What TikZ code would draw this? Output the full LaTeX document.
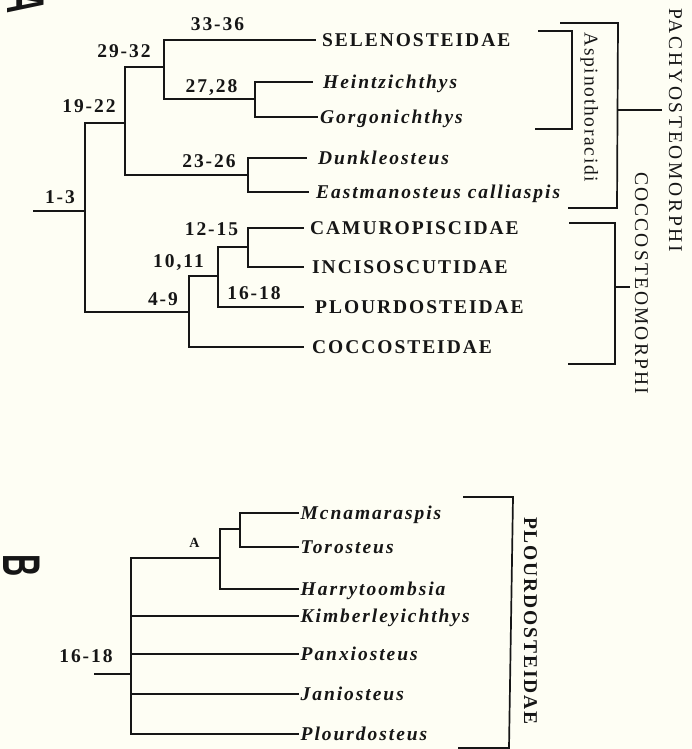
\documentclass[tikz,border=0pt]{standalone}
\usepackage{fontspec}
\setmainfont{Liberation Serif}
\newfontfamily\taxfont[LetterSpace=10]{Liberation Serif}
\newfontfamily\panelfont{Liberation Sans}
\definecolor{paper}{RGB}{254,254,244}
\definecolor{ink}{RGB}{22,22,22}

\begin{document}
\begin{tikzpicture}[x=1pt,y=-1pt,
  every node/.style={text=ink},
  branch/.style={draw=ink, line width=2.3pt, line join=miter},
  brace/.style={draw=ink, line width=1.7pt, line join=miter},
  leaf/.style={anchor=west, inner ysep=0pt, text height=12.9pt, text depth=0pt,
    font=\taxfont\bfseries\fontsize{19.5}{22}\selectfont},
  genus/.style={leaf, font=\taxfont\bfseries\itshape\fontsize{19.5}{22}\selectfont},
  apo/.style={inner sep=0pt, text height=13pt, text depth=0pt,
    font=\taxfont\bfseries\fontsize{19.5}{22}\selectfont},
  group/.style={rotate=-90, anchor=west, inner sep=0pt, text height=12.9pt, text depth=0pt},
  panel/.style={rotate=-90, inner sep=0pt, text height=38pt, text depth=0pt,
    font=\panelfont\bfseries\fontsize{53}{56}\selectfont}
]
\useasboundingbox (0,0) rectangle (692,749);
\fill[paper] (0,0) rectangle (692,749);
\clip (0,0) rectangle (692,749);

% panel letters
\node[panel] (panelA) at (27,3) {\scalebox{0.58}[1]{A}};
\node[panel] (panelB) at (23,566) {\scalebox{0.58}[1]{B}};

% ---------- A: tree of Arthrodira ----------
\coordinate (a0) at (33,211);
\coordinate (r1) at (85,211);
\coordinate (n1922) at (125,123);
\coordinate (n2932) at (164,67);
\coordinate (n2728) at (255,99);
\coordinate (n2326) at (248,175);
\coordinate (n49) at (189,312);
\coordinate (n1011) at (218,276);
\coordinate (n1215) at (248,247);

\node[leaf, inner xsep=6pt] (sel) at (316,40) {SELENOSTEIDAE};
\node[genus, inner xsep=10pt] (hei) at (313,82) {Heintzichthys};
\node[genus, inner xsep=2pt] (gor) at (318,117) {Gorgonichthys};
\node[genus, inner xsep=11pt] (dun) at (307,158) {Dunkleosteus};
\node[genus, inner xsep=7pt] (eas) at (309,192) {Eastmanosteus calliaspis};
\node[leaf, inner xsep=6pt] (cam) at (304,228) {CAMUROPISCIDAE};
\node[leaf, inner xsep=8pt] (inc) at (304,267) {INCISOSCUTIDAE};
\node[leaf, inner xsep=11pt] (plo) at (304,307) {PLOURDOSTEIDAE};
\node[leaf, inner xsep=8pt] (coc) at (304,347) {COCCOSTEIDAE};

\draw[branch] (a0) -- (r1);
\draw[branch] (r1) |- (n1922);
\draw[branch] (r1) |- (n49);
\draw[branch] (n1922) |- (n2932);
\draw[branch] (n1922) |- (n2326);
\draw[branch] (n2932) |- (sel.west);
\draw[branch] (n2932) |- (n2728);
\draw[branch] (n2728) |- (hei.west);
\draw[branch] (n2728) |- (gor.west);
\draw[branch] (n2326) |- (dun.west);
\draw[branch] (n2326) |- (eas.west);
\draw[branch] (n49) |- (n1011);
\draw[branch] (n49) |- (coc.west);
\draw[branch] (n1011) |- (n1215);
\draw[branch] (n1011) |- (plo.west);
\draw[branch] (n1215) |- (cam.west);
\draw[branch] (n1215) |- (inc.west);

% character numbers
\node[apo] (c1) at (60,196.5) {1-3};
\node[apo] (c19) at (89,106.5) {19-22};
\node[apo] (c29) at (124,51) {29-32};
\node[apo] (c33) at (217.5,24) {33-36};
\node[apo] (c27) at (211.5,86) {27,28};
\node[apo] (c23) at (209,161) {23-26};
\node[apo] (c12) at (211.5,228.5) {12-15};
\node[apo] (c10) at (178.5,261) {10,11};
\node[apo] (c4) at (163,298.5) {4-9};
\node[apo] (c16) at (254,293) {16-18};

% group brackets
\draw[brace] (538,31) -- (572,31) -- (572,129) -- (535,129);
\draw[brace] (560,23) -- (618,23) -- (617,208) -- (568,208);
\coordinate (pt0) at (618,110);
\coordinate (pt1) at (662,110);
\draw[brace] (pt0) -- (pt1);
\draw[brace] (569,223) -- (615,223) -- (615,364) -- (568,364);
\coordinate (ct0) at (615,287);
\coordinate (ct1) at (630,287);
\draw[brace] (ct0) -- (ct1);

\node[group, font=\taxfont\addfontfeatures{LetterSpace=9}\fontsize{19.5}{22}\selectfont]
  (asp) at (591,32) {Aspinothoracidi};
\node[group, font=\taxfont\addfontfeatures{LetterSpace=14}\fontsize{19.5}{22}\selectfont]
  (pachy) at (675.5,8) {PACHYOSTEOMORPHI};
\node[group, font=\taxfont\addfontfeatures{LetterSpace=11}\fontsize{19.5}{22}\selectfont]
  (cocco) at (641.5,172) {COCCOSTEOMORPHI};

% ---------- B: Plourdosteidae ----------
\coordinate (b0) at (94,674);
\coordinate (rb) at (131,674);
\coordinate (nA) at (220,558);
\coordinate (nA2) at (240,529);

\node[genus, inner xsep=1.5pt] (mcn) at (299,513) {Mcnamaraspis};
\node[genus, inner xsep=1.5pt] (tor) at (299,547) {Torosteus};
\node[genus, inner xsep=1.5pt] (har) at (299,589) {Harrytoombsia};
\node[genus, inner xsep=1.5pt] (kim) at (299,616) {Kimberleyichthys};
\node[genus, inner xsep=1.5pt] (pan) at (299,654) {Panxiosteus};
\node[genus, inner xsep=1.5pt] (jan) at (299,694) {Janiosteus};
\node[genus, inner xsep=1.5pt] (plb) at (299,734) {Plourdosteus};

\draw[branch] (b0) -- (rb);
\draw[branch] (rb) |- (nA);
\draw[branch] (rb) |- (kim.west);
\draw[branch] (rb) |- (pan.west);
\draw[branch] (rb) |- (jan.west);
\draw[branch] (rb) |- (plb.west);
\draw[branch] (nA) |- (nA2);
\draw[branch] (nA) |- (har.west);
\draw[branch] (nA2) |- (mcn.west);
\draw[branch] (nA2) |- (tor.west);

\node[apo] (cb16) at (86,655.5) {16-18};
\node[apo, text height=9.5pt, font=\taxfont\bfseries\fontsize{14}{16}\selectfont] (cA) at (194.5,542.5) {A};

\draw[brace] (463,497) -- (513,497) -- (509,748) -- (458,748);
\node[group, font=\taxfont\bfseries\addfontfeatures{LetterSpace=9.5}\fontsize{19.5}{22}\selectfont]
  (plourdo) at (530.5,517) {PLOURDOSTEIDAE};
\end{tikzpicture}
\end{document}
